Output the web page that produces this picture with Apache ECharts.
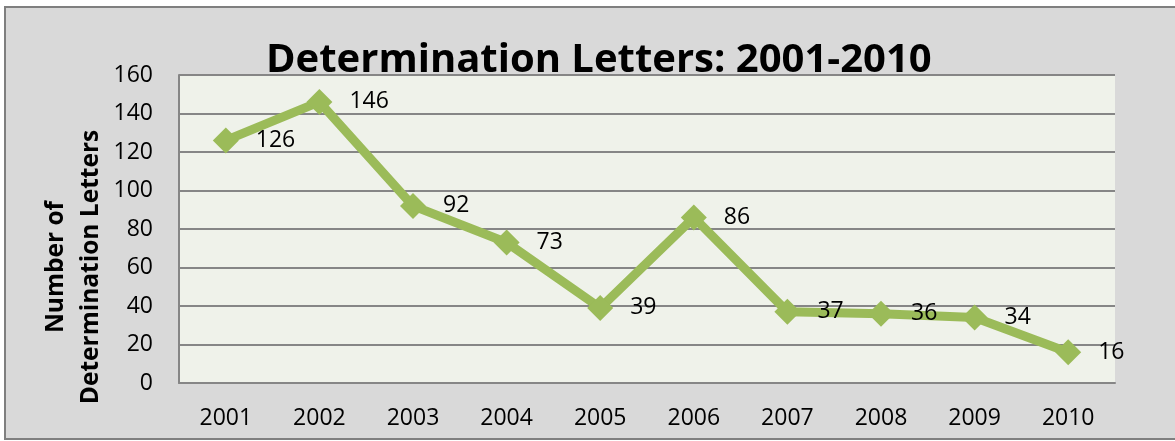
<!DOCTYPE html>
<html>
<head>
<meta charset="utf-8">
<script src="https://cdn.jsdelivr.net/npm/echarts@6/dist/echarts.min.js"></script>
<style>
  html, body { margin: 0; padding: 0; background: #fff; overflow: hidden; }
  #main { width: 1175px; height: 441px; }
</style>
</head>
<body>
<div id="main"></div>
<script>
// chart data
const years = ['2001', '2002', '2003', '2004', '2005', '2006', '2007', '2008', '2009', '2010']
const letters = [126, 146, 92, 73, 39, 86, 37, 36, 34, 16]
const yTicks = { min: 0, max: 160, step: 20 }

const font = '"Open Sans", "Noto Sans", sans-serif'

let chart = echarts.init(document.getElementById('main'))
chart.setOption({
  backgroundColor: '#ffffff',
  animation: false,
  title: {
    text: 'Determination Letters: 2001-2010',
    left: 261,
    top: 36,
    textStyle: {
      fontFamily: font,
      fontWeight: 'bold',
      fontSize: 40,
      color: '#000'
    }
  },
  graphic: [
    {
      type: 'rect',
      z: -10,
      silent: true,
      shape: { x: 5, y: 7, width: 1200, height: 432 },
      style: { fill: '#d9d9d9', stroke: '#7f7f7f', lineWidth: 2 }
    },
    {
      type: 'text',
      x: 74,
      y: 267,
      rotation: Math.PI / 2,
      style: {
        text: 'Number of\nDetermination Letters',
        fontFamily: font,
        fontWeight: 'bold',
        fontSize: 24.5,
        lineHeight: 35,
        align: 'center',
        verticalAlign: 'middle',
        fill: '#000'
      }
    }
  ],
  grid: {
    show: true,
    left: 179,
    top: 75,
    right: 60,
    bottom: 58,
    backgroundColor: '#eff2ea',
    borderWidth: 0
  },
  xAxis: {
    type: 'category',
    boundaryGap: true,
    data: years,
    axisLine: { show: true, lineStyle: { color: '#868686', width: 2 } },
    axisTick: { show: false },
    axisLabel: {
      margin: 24,
      fontFamily: font,
      fontSize: 23,
      color: '#000'
    }
  },
  yAxis: {
    type: 'value',
    min: yTicks.min,
    max: yTicks.max,
    interval: yTicks.step,
    axisLine: { show: true, lineStyle: { color: '#868686', width: 2 } },
    axisTick: { show: false },
    splitLine: { lineStyle: { color: '#868686', width: 2 } },
    axisLabel: {
      margin: 26,
      fontFamily: font,
      fontSize: 23,
      color: '#000'
    }
  },
  series: [{
    type: 'line',
    data: letters,
    symbol: 'diamond',
    symbolSize: 26,
    lineStyle: { color: '#9bbb59', width: 9 },
    itemStyle: { color: '#9bbb59' },
    label: {
      show: true,
      position: 'right',
      distance: 17,
      fontFamily: font,
      fontSize: 23,
      color: '#000'
    }
  }]
})
</script>
</body>
</html>
